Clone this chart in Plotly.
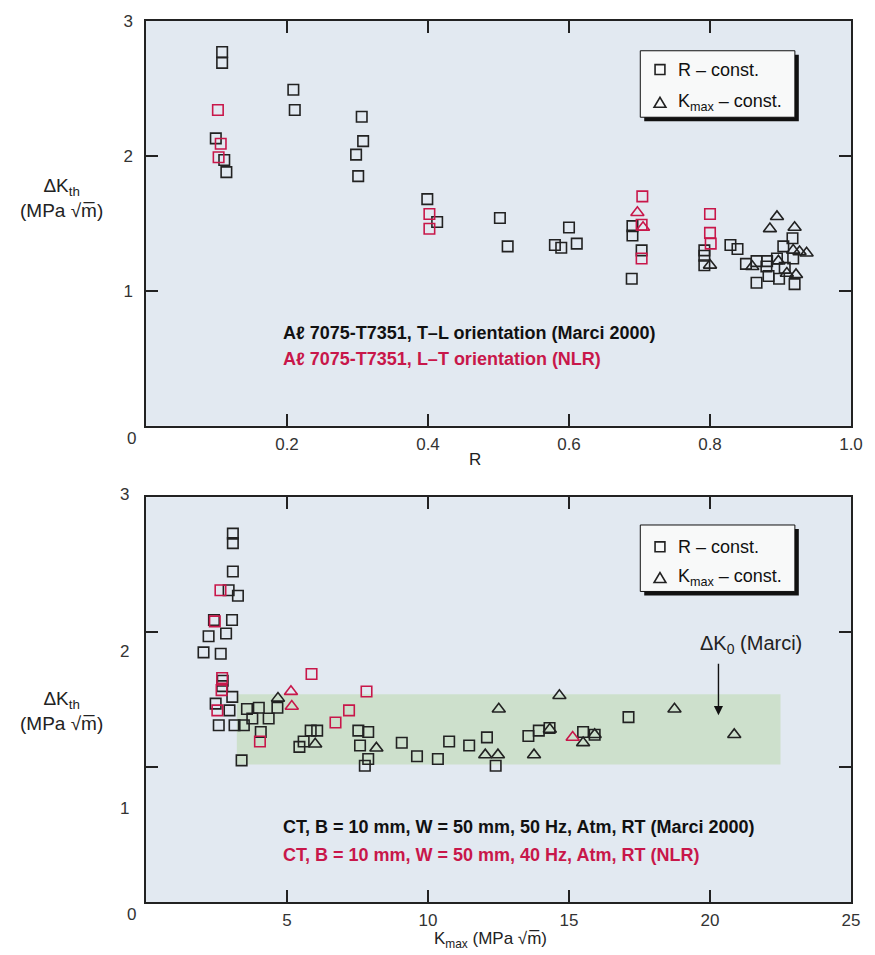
import plotly.graph_objects as go

# ---------------- data: top panel (Delta K_th vs R) ----------------
top_marci_sq_R = [0.108, 0.108, 0.099, 0.111, 0.114, 0.209, 0.211, 0.306, 0.308, 0.298, 0.301,
                  0.399, 0.413, 0.502, 0.513, 0.600, 0.580, 0.589, 0.611, 0.690, 0.690, 0.703, 0.689,
                  0.792, 0.792, 0.792, 0.829, 0.839, 0.851, 0.866, 0.866, 0.881, 0.883, 0.895, 0.898,
                  0.904, 0.917, 0.918, 0.920, 0.906, 0.880]
top_marci_sq_dK = [2.77, 2.69, 2.13, 1.97, 1.88, 2.49, 2.34, 2.29, 2.11, 2.01, 1.85,
                   1.68, 1.51, 1.54, 1.33, 1.47, 1.34, 1.32, 1.35, 1.48, 1.41, 1.30, 1.09,
                   1.30, 1.26, 1.19, 1.34, 1.31, 1.20, 1.22, 1.06, 1.22, 1.11, 1.24, 1.09,
                   1.33, 1.39, 1.24, 1.05, 1.17, 1.18]
top_marci_tri_R = [0.800, 0.860, 0.885, 0.895, 0.920, 0.918, 0.927, 0.937, 0.909, 0.922, 0.897]
top_marci_tri_dK = [1.19, 1.18, 1.46, 1.55, 1.47, 1.30, 1.29, 1.28, 1.13, 1.12, 1.22]
top_nlr_sq_R = [0.102, 0.106, 0.103, 0.402, 0.402, 0.704, 0.703, 0.703, 0.800, 0.800, 0.801]
top_nlr_sq_dK = [2.34, 2.09, 1.99, 1.57, 1.46, 1.70, 1.49, 1.24, 1.57, 1.43, 1.35]
top_nlr_tri_R = [0.697, 0.705]
top_nlr_tri_dK = [1.58, 1.47]

# ---------------- data: bottom panel (Delta K_th vs Kmax) ----------------
bot_marci_sq_K = [3.08, 3.08, 3.08, 2.93, 3.26, 2.41, 3.05, 2.22, 2.84, 2.04, 2.65, 2.72, 2.70,
                  3.06, 2.47, 2.96, 2.58, 3.14, 3.47, 3.58, 4.00, 3.77, 4.35, 4.66, 4.07, 3.39,
                  5.84, 6.07, 5.59, 5.44, 7.53, 7.88, 7.59, 7.88, 7.76, 9.07, 9.61, 10.35, 10.75,
                  11.46, 12.09, 12.40, 13.56, 13.93, 14.31, 15.50, 15.91, 17.11]
bot_marci_sq_dK = [2.73, 2.66, 2.45, 2.31, 2.27, 2.09, 2.09, 1.97, 1.99, 1.85, 1.84, 1.64, 1.60,
                   1.52, 1.47, 1.42, 1.31, 1.31, 1.31, 1.43, 1.44, 1.36, 1.36, 1.44, 1.26, 1.05,
                   1.27, 1.27, 1.19, 1.15, 1.27, 1.26, 1.16, 1.06, 1.01, 1.18, 1.08, 1.06, 1.19,
                   1.16, 1.22, 1.01, 1.23, 1.27, 1.29, 1.26, 1.24, 1.37]
bot_marci_tri_K = [4.68, 6.00, 8.17, 12.51, 12.03, 12.48, 13.76, 14.66, 14.32, 15.50, 15.91, 18.74, 20.86]
bot_marci_tri_dK = [1.51, 1.17, 1.14, 1.43, 1.09, 1.09, 1.09, 1.53, 1.28, 1.18, 1.24, 1.43, 1.24]
bot_nlr_sq_K = [2.64, 2.44, 2.70, 2.68, 2.53, 4.04, 5.87, 7.82, 7.20, 6.72]
bot_nlr_sq_dK = [2.31, 2.08, 1.66, 1.57, 1.42, 1.19, 1.69, 1.56, 1.42, 1.33]
bot_nlr_tri_K = [5.14, 5.17, 15.13]
bot_nlr_tri_dK = [1.56, 1.45, 1.22]

# scatter band of Delta K_0 (Marci)
band_K = [3.22, 22.5]
band_dK = [1.02, 1.54]
arrow_K = 20.3
arrow_dK = 1.385

x_top_ticks = [0, 0.2, 0.4, 0.6, 0.8, 1.0]
x_top_text = ["", "0.2", "0.4", "0.6", "0.8", "1.0"]
x_bot_ticks = [0, 5, 10, 15, 20, 25]
x_bot_text = ["", "5", "10", "15", "20", "25"]

# ---------------- styling ----------------
W, H = 875, 955
L, R, T, B = 146, 862, 14, 902
BLACK = "#222222"
RED = "#c8174a"
BG = "#e2e9f1"
FONT = "Liberation Sans, Arial, sans-serif"
TXT = "#222222"


def px(x):
    return (x - L) / (R - L)


def py(y):
    return (B - y) / (B - T)


fig = go.Figure()


def add(xs, ys, sym, col, xa, ya):
    fig.add_trace(go.Scatter(
        x=xs, y=ys, mode="markers", xaxis=xa, yaxis=ya, showlegend=False,
        marker=dict(symbol=sym, size=10.5 if "square" in sym else 11.5, color=col,
                    line=dict(color=col, width=1.6))))


add(top_marci_sq_R, top_marci_sq_dK, "square-open", BLACK, "x", "y")
add(top_marci_tri_R, top_marci_tri_dK, "triangle-up-open", BLACK, "x", "y")
add(top_nlr_sq_R, top_nlr_sq_dK, "square-open", RED, "x", "y")
add(top_nlr_tri_R, top_nlr_tri_dK, "triangle-up-open", RED, "x", "y")

add(bot_marci_sq_K, bot_marci_sq_dK, "square-open", BLACK, "x2", "y2")
add(bot_marci_tri_K, bot_marci_tri_dK, "triangle-up-open", BLACK, "x2", "y2")
add(bot_nlr_sq_K, bot_nlr_sq_dK, "square-open", RED, "x2", "y2")
add(bot_nlr_tri_K, bot_nlr_tri_dK, "triangle-up-open", RED, "x2", "y2")

axis_common = dict(ticks="inside", ticklen=12, tickwidth=1.5, tickcolor=BLACK,
                   showline=True, linecolor=BLACK, linewidth=1.5, mirror="ticks",
                   showgrid=False, zeroline=False,
                   tickfont=dict(family=FONT, size=17, color="#333333"))

top_dom = [py(422), 1.0]
bot_dom = [0.0, py(494)]

fig.update_layout(
    width=W, height=H, autosize=False,
    margin=dict(l=L, r=W - R, t=T, b=H - B),
    paper_bgcolor="white", plot_bgcolor=BG,
    xaxis=dict(domain=[0, 1], range=[0, 1.0], anchor="y", tickvals=x_top_ticks,
               ticktext=x_top_text, ticklabelstandoff=2, **axis_common),
    yaxis=dict(domain=top_dom, range=[0, 3], anchor="x", tickvals=[1, 2, 3],
               ticktext=["1", "2", "3"], ticklabelstandoff=8, **axis_common),
    xaxis2=dict(domain=[0, 1], range=[0, 25], anchor="y2", tickvals=x_bot_ticks,
                ticktext=x_bot_text, ticklabelstandoff=2, **axis_common),
    yaxis2=dict(domain=bot_dom, range=[0, 3], anchor="x2", tickvals=[1, 2, 3],
                showticklabels=False, **axis_common),
)

shapes = []
# green band
shapes.append(dict(type="rect", xref="x2", yref="y2", x0=band_K[0], x1=band_K[1],
                   y0=band_dK[0], y1=band_dK[1], fillcolor="#cde0cc",
                   line=dict(width=0), layer="below"))

annotations = []


def note(text, x, y, size, color=TXT, anchor="center"):
    annotations.append(dict(text=text, xref="paper", yref="paper", x=px(x), y=py(y),
                            xanchor=anchor, yanchor="middle", showarrow=False,
                            font=dict(family=FONT, size=size, color=color)))


def legend_box(top, y1, y2):
    # shadow
    shapes.append(dict(type="rect", xref="paper", yref="paper",
                       x0=px(652), x1=px(809), y0=py(top + 71), y1=py(top + 4),
                       fillcolor="#111111", line=dict(width=0), layer="above"))
    shapes.append(dict(type="rect", xref="paper", yref="paper",
                       x0=px(648), x1=px(805), y0=py(top + 67), y1=py(top),
                       fillcolor="#f8f9f9", line=dict(color="#111111", width=1), layer="above"))
    # square symbol
    shapes.append(dict(type="rect", xref="paper", yref="paper",
                       x0=px(663), x1=px(673), y0=py(y1 + 5), y1=py(y1 - 5),
                       line=dict(color=BLACK, width=1.6), layer="above"))
    # triangle symbol
    path = "M {} {} L {} {} L {} {} Z".format(px(662), py(y2 + 5), px(674), py(y2 + 5),
                                             px(668), py(y2 - 5))
    shapes.append(dict(type="path", xref="paper", yref="paper", path=path,
                       line=dict(color=BLACK, width=1.6), layer="above"))
    note("R – const.", 684, y1, 18, "#111111", "left")
    note("K<sub>max</sub> – const.", 684, y2, 18, "#111111", "left")


legend_box(44, 63, 96)
legend_box(522, 544, 575)

ylab = "ΔK<sub>th</sub><br>(MPa √m̅)"
note(ylab, 60, 192, 19)
note(ylab, 60, 709, 19)
note("R", 480, 456, 17)
note("K<sub>max</sub> (MPa √m̅)", 496, 940, 17)

# corner "0" labels of the x axes
note("0", 131, 435, 17, "#333333")
note("0", 131, 915, 17, "#333333")

# bottom y tick labels (placed as in the original figure)
note("3", 131, 491, 17, "#333333", "right")
note("2", 131, 650, 17, "#333333", "right")
note("1", 131, 808, 17, "#333333", "right")

# panel notes
note("<b>Aℓ 7075-T7351, T–L orientation (Marci 2000)</b>", 283, 328, 18, "#111111", "left")
note("<b>Aℓ 7075-T7351, L–T orientation (NLR)</b>", 283, 355, 18, RED, "left")
note("<b>CT, B = 10 mm, W = 50 mm, 50 Hz, Atm, RT (Marci 2000)</b>", 283, 826, 18, "#111111", "left")
note("<b>CT, B = 10 mm, W = 50 mm, 40 Hz, Atm, RT (NLR)</b>", 283, 855, 18, RED, "left")

# Delta K0 arrow
note("ΔK<sub>0</sub> (Marci)", 760, 642, 20)
annotations.append(dict(text="", xref="x2", yref="y2", x=arrow_K, y=arrow_dK,
                        ax=0, ay=-53, showarrow=True, arrowhead=2, arrowsize=1.3,
                        arrowwidth=1.4, arrowcolor="#111111"))

fig.update_layout(shapes=shapes, annotations=annotations)
fig.write_html("out.html")
